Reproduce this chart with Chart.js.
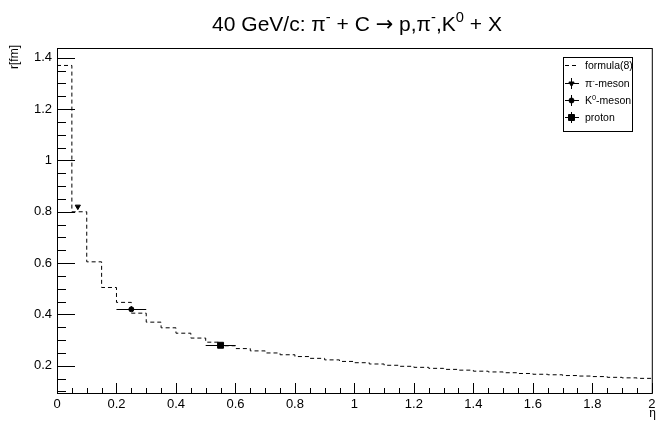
<!DOCTYPE html>
<html>
<head>
<meta charset="utf-8">
<script src="https://cdn.jsdelivr.net/npm/chart.js@4/dist/chart.umd.min.js"></script>
<style>
  html, body { margin: 0; padding: 0; background: #fff; }
</style>
</head>
<body>
<canvas id="myChart" width="657" height="423"></canvas>
<script>
// formula(8): r in fm per eta bin of width 0.05, from 0 to 2
const binWidth = 0.05;
const formulaR = [
  1.37, 0.80, 0.605, 0.505, 0.447, 0.405, 0.370, 0.348, 0.327, 0.308,
  0.292, 0.278, 0.267, 0.258, 0.250, 0.243, 0.236, 0.229, 0.223, 0.217,
  0.212, 0.207, 0.202, 0.198, 0.194, 0.190, 0.186, 0.183, 0.179, 0.176,
  0.173, 0.170, 0.167, 0.165, 0.162, 0.160, 0.158, 0.155, 0.153, 0.151
];

// measured points
const pionEta = [0.07];
const pionR = [0.82];
const kaonEta = [0.25];
const kaonR = [0.42];
const kaonErr = [0.05];
const protonEta = [0.55];
const protonR = [0.28];
const protonErr = [0.05];

const xTicks = [0, 0.2, 0.4, 0.6, 0.8, 1, 1.2, 1.4, 1.6, 1.8, 2];
const yTicks = [0.2, 0.4, 0.6, 0.8, 1, 1.2, 1.4];

const FONT = "'Liberation Sans', Arial, sans-serif";
const SYM_FONT = "'DejaVu Sans', sans-serif";

// histogram outline as step line: one point per bin low edge plus the last edge
const formulaPts = formulaR.map((r, i) => ({ x: i * binWidth, y: r }));
formulaPts.push({ x: formulaR.length * binWidth, y: formulaR[formulaR.length - 1] });

const toPts = (xs, ys) => xs.map((x, i) => ({ x: x, y: ys[i] }));

// text with superscripts, parts = [[text, isSup, font], ...]
function drawRich(ctx, parts, x, y, size, align) {
  const setFont = p => { ctx.font = (p[1] ? size * 0.7 : size) + 'px ' + (p[2] || FONT); };
  let w = 0;
  parts.forEach(p => { setFont(p); w += ctx.measureText(p[0]).width; });
  let cx = align === 'center' ? x - w / 2 : (align === 'right' ? x - w : x);
  ctx.textAlign = 'left';
  ctx.textBaseline = 'alphabetic';
  parts.forEach(p => {
    setFont(p);
    ctx.fillText(p[0], cx, p[1] ? y - size * 0.42 : y);
    cx += ctx.measureText(p[0]).width;
  });
}

const frameAndText = {
  id: 'frameAndText',
  afterDatasetsDraw(chart) {
    const ctx = chart.ctx;
    const a = chart.chartArea;
    const xs = chart.scales.x, ys = chart.scales.y;
    ctx.save();
    ctx.strokeStyle = '#000';
    ctx.fillStyle = '#000';
    ctx.lineWidth = 1;

    // horizontal error bars
    const errBar = (etas, rs, errs) => {
      etas.forEach((e, i) => {
        const py = Math.round(ys.getPixelForValue(rs[i])) + 0.5;
        ctx.beginPath();
        ctx.moveTo(xs.getPixelForValue(e - errs[i]), py);
        ctx.lineTo(xs.getPixelForValue(e + errs[i]), py);
        ctx.stroke();
      });
    };
    errBar(kaonEta, kaonR, kaonErr);
    errBar(protonEta, protonR, protonErr);

    // frame
    ctx.strokeRect(a.left + 0.5, a.top + 0.5, a.right - a.left, a.bottom - a.top);

    // ticks inside the frame
    ctx.beginPath();
    for (let v = 0; v <= 2.0001; v += 0.05) {
      const px = Math.round(xs.getPixelForValue(v)) + 0.5;
      const major = Math.abs(v / 0.2 - Math.round(v / 0.2)) < 1e-6;
      ctx.moveTo(px, a.bottom);
      ctx.lineTo(px, a.bottom - (major ? 10 : 5));
    }
    for (let v = 0.1; v <= 1.4001; v += 0.05) {
      const py = Math.round(ys.getPixelForValue(v)) + 0.5;
      const major = Math.abs(v / 0.2 - Math.round(v / 0.2)) < 1e-6;
      ctx.moveTo(a.left, py);
      ctx.lineTo(a.left + (major ? 18 : 9), py);
    }
    ctx.stroke();

    // title
    drawRich(ctx, [['40 GeV/c: \u03c0', false], ['-', true], [' + C ', false],
      ['\u2192', false, SYM_FONT], [' p,\u03c0', false],
      ['-', true], [',K', false], ['0', true], [' + X', false]], 357, 31, 21, 'center');

    // axis titles
    ctx.font = '12px ' + FONT;
    ctx.textAlign = 'right';
    ctx.textBaseline = 'alphabetic';
    ctx.fillText('\u03b7', 656, 417);
    ctx.save();
    ctx.translate(18, 45);
    ctx.rotate(-Math.PI / 2);
    ctx.fillText('r[fm]', 0, 0);
    ctx.restore();

    // legend
    const lx = 563, ly = 57, lw = 69, lh = 74;
    ctx.fillStyle = '#fff';
    ctx.fillRect(lx, ly, lw, lh);
    ctx.strokeRect(lx + 0.5, ly + 0.5, lw, lh);
    ctx.fillStyle = '#000';
    const rowY = [65, 83, 100, 117];
    const mx = 571;
    // formula(8) dashed sample
    ctx.setLineDash([4, 3]);
    ctx.beginPath();
    ctx.moveTo(565, rowY[0] + 0.5);
    ctx.lineTo(579, rowY[0] + 0.5);
    ctx.stroke();
    ctx.setLineDash([]);
    // marker samples with error cross
    for (let k = 1; k < 4; k++) {
      ctx.beginPath();
      ctx.moveTo(565, rowY[k] + 0.5);
      ctx.lineTo(579, rowY[k] + 0.5);
      ctx.moveTo(mx + 0.5, rowY[k] - 5);
      ctx.lineTo(mx + 0.5, rowY[k] + 6);
      ctx.stroke();
    }
    Chart.helpers.drawPoint(ctx, { pointStyle: 'triangle', rotation: 180, radius: 3, borderWidth: 1 }, mx + 0.5, rowY[1] + 0.5);
    Chart.helpers.drawPoint(ctx, { pointStyle: 'circle', rotation: 0, radius: 2.5, borderWidth: 1 }, mx + 0.5, rowY[2] + 0.5);
    Chart.helpers.drawPoint(ctx, { pointStyle: 'rect', rotation: 0, radius: 4.2, borderWidth: 1 }, mx + 0.5, rowY[3] + 0.5);
    const tx = 585;
    drawRich(ctx, [['formula(8)', false]], tx, rowY[0] + 4, 10.5, 'left');
    drawRich(ctx, [['\u03c0', false], ['-', true], ['-meson', false]], tx, rowY[1] + 4, 10.5, 'left');
    drawRich(ctx, [['K', false], ['0', true], ['-meson', false]], tx, rowY[2] + 4, 10.5, 'left');
    drawRich(ctx, [['proton', false]], tx, rowY[3] + 4, 10.5, 'left');
    ctx.restore();
  }
};

const ctx = document.getElementById('myChart').getContext('2d');
const myChart = new Chart(ctx, {
  type: 'scatter',
  data: {
    datasets: [{
      label: 'formula(8)',
      type: 'line',
      data: formulaPts,
      stepped: 'before',
      borderColor: '#000',
      borderWidth: 1,
      borderDash: [4, 3],
      pointRadius: 0,
      fill: false
    }, {
      label: 'π⁻-meson',
      data: toPts(pionEta, pionR),
      pointStyle: 'triangle',
      rotation: 180,
      pointRadius: 3,
      backgroundColor: '#000',
      borderColor: '#000'
    }, {
      label: 'K⁰-meson',
      data: toPts(kaonEta, kaonR),
      pointStyle: 'circle',
      pointRadius: 2.5,
      backgroundColor: '#000',
      borderColor: '#000'
    }, {
      label: 'proton',
      data: toPts(protonEta, protonR),
      pointStyle: 'rect',
      pointRadius: 4.2,
      backgroundColor: '#000',
      borderColor: '#000'
    }]
  },
  options: {
    responsive: false,
    animation: false,
    devicePixelRatio: 1,
    layout: { padding: { top: 48, left: 0, right: 0, bottom: 0 } },
    plugins: {
      legend: { display: false },
      tooltip: { enabled: false }
    },
    scales: {
      x: {
        type: 'linear',
        min: 0,
        max: 2,
        afterBuildTicks: s => { s.ticks = xTicks.map(v => ({ value: v })); },
        afterFit: s => { s.height = 30; s.paddingLeft = 0; s.paddingRight = 0; },
        grid: { display: false, drawTicks: false, tickLength: 0 },
        border: { display: false },
        ticks: {
          autoSkip: false,
          maxRotation: 0,
          padding: 4,
          color: '#000',
          font: { family: FONT, size: 13 },
          callback: v => String(+v.toFixed(1))
        }
      },
      y: {
        min: 0.094,
        max: 1.438,
        afterBuildTicks: s => { s.ticks = yTicks.map(v => ({ value: v })); },
        afterFit: s => { s.width = 57; s.paddingTop = 0; s.paddingBottom = 0; },
        grid: { display: false, drawTicks: false, tickLength: 0 },
        border: { display: false },
        ticks: {
          padding: 5,
          color: '#000',
          font: { family: FONT, size: 13 },
          callback: v => String(+v.toFixed(1))
        }
      }
    }
  },
  plugins: [frameAndText]
});
</script>
</body>
</html>
